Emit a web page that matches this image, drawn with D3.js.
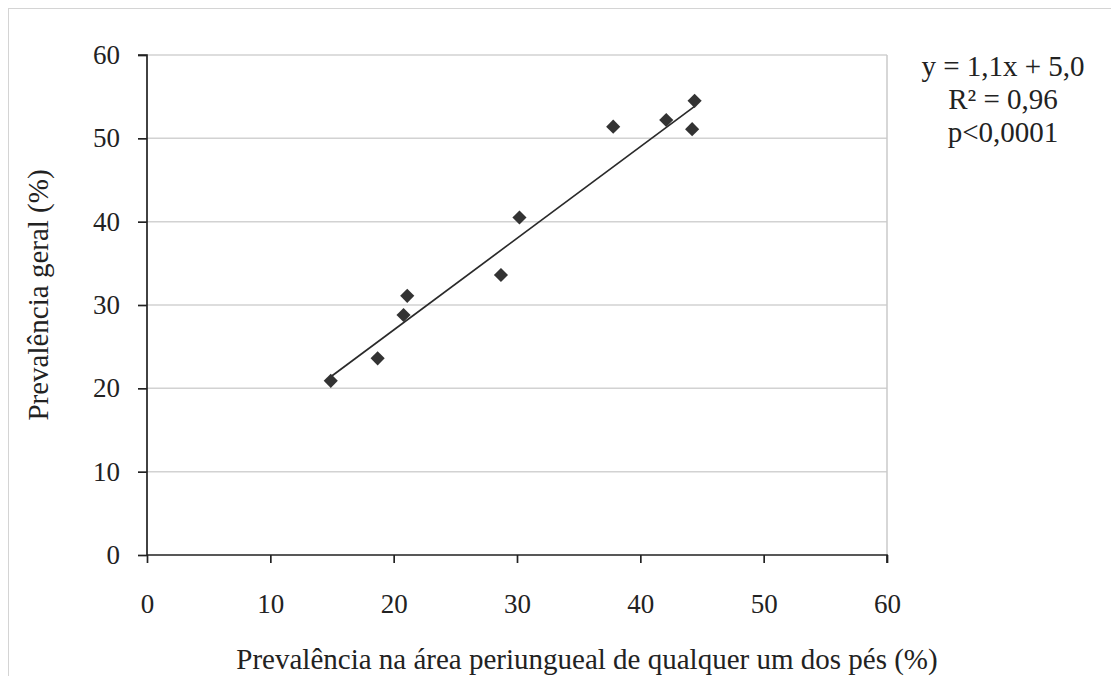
<!DOCTYPE html>
<html>
<head>
<meta charset="utf-8">
<script src="https://cdn.jsdelivr.net/npm/d3@7"></script>
<style>
  html, body { margin: 0; padding: 0; background: #fff; }
  svg { display: block; }
  text { font-family: "Liberation Serif", "Times New Roman", serif; fill: #222; }
</style>
</head>
<body>
<svg id="chart" width="1111" height="676"></svg>
<script>
// Prevalence on the periungual area of either foot (x) vs overall prevalence (y), %
const periungueal = [14.9, 18.7, 20.8, 21.1, 28.7, 30.2, 37.8, 42.1, 44.4, 44.2];
const geral       = [20.9, 23.6, 28.8, 31.1, 33.6, 40.5, 51.4, 52.2, 54.5, 51.1];

// Fitted line as printed: y = 1,1x + 5,0
const slope = 1.1;
const intercept = 5.0;
const statLines = ["y = 1,1x + 5,0", "R² = 0,96", "p<0,0001"];

const xTicks = [0, 10, 20, 30, 40, 50, 60];
const yTicks = [0, 10, 20, 30, 40, 50, 60];
const xTitle = "Prevalência na área periungueal de qualquer um dos pés (%)";
const yTitle = "Prevalência geral (%)";

const svg = d3.select("#chart");
const plotLeft = 147, plotRight = 887, plotTop = 55, plotBottom = 555;
const tickFont = 27, titleFont = 29;

const x = d3.scaleLinear().domain([0, 60]).range([plotLeft, plotRight]);
const y = d3.scaleLinear().domain([0, 60]).range([plotBottom, plotTop]);

// outer frame
svg.append("rect")
  .attr("x", 8.5).attr("y", 8.5).attr("width", 1300).attr("height", 1000)
  .attr("fill", "none").attr("stroke", "#d4d4d4").attr("stroke-width", 1);

// horizontal gridlines
svg.append("g").selectAll("line")
  .data(yTicks.filter(d => d > 0))
  .join("line")
  .attr("x1", plotLeft).attr("x2", plotRight)
  .attr("y1", d => y(d)).attr("y2", d => y(d))
  .attr("stroke", "#d2d2d2").attr("stroke-width", 1.5);

// right edge of plot area
svg.append("line")
  .attr("x1", plotRight).attr("x2", plotRight).attr("y1", plotTop).attr("y2", plotBottom)
  .attr("stroke", "#cacaca").attr("stroke-width", 1.5);

// axes
const yAxis = d3.axisLeft(y).tickValues(yTicks).tickSize(9).tickPadding(18).tickFormat(d3.format("d"));
const xAxis = d3.axisBottom(x).tickValues(xTicks).tickSize(8).tickPadding(31).tickFormat(d3.format("d"));

const gy = svg.append("g").attr("transform", `translate(${plotLeft},0)`).call(yAxis);
const gx = svg.append("g").attr("transform", `translate(0,${plotBottom})`).call(xAxis);

[gx, gy].forEach(g => {
  g.select(".domain").attr("stroke", "#222").attr("stroke-width", 1.7);
  g.selectAll(".tick line").attr("stroke", "#222").attr("stroke-width", 1.7);
  g.selectAll(".tick text")
    .attr("font-family", "Liberation Serif, Times New Roman, serif")
    .attr("font-size", tickFont).attr("fill", "#222");
});
gy.select(".domain").attr("d", `M-9,${plotTop}H0V${plotBottom}`);
gx.select(".domain").attr("d", `M${plotLeft},0H${plotRight}V8`);

// trend line over the observed range
const xr = d3.extent(periungueal);
svg.append("line")
  .attr("x1", x(xr[0])).attr("y1", y(slope * xr[0] + intercept))
  .attr("x2", x(xr[1])).attr("y2", y(slope * xr[1] + intercept))
  .attr("stroke", "#2a2a2a").attr("stroke-width", 1.7);

// diamond markers
const diamond = d3.symbol().type(d3.symbolSquare).size(100);
svg.append("g").selectAll("path")
  .data(periungueal.map((v, i) => [v, geral[i]]))
  .join("path")
  .attr("d", diamond)
  .attr("transform", d => `translate(${x(d[0])},${y(d[1])}) rotate(45)`)
  .attr("fill", "#333");

// axis titles
svg.append("text")
  .attr("x", 587).attr("y", 669)
  .attr("text-anchor", "middle").attr("font-size", titleFont)
  .text(xTitle);

svg.append("text")
  .attr("transform", `translate(48,295) rotate(-90)`)
  .attr("text-anchor", "middle").attr("font-size", titleFont)
  .text(yTitle);

// regression statistics
svg.append("g").selectAll("text")
  .data(statLines)
  .join("text")
  .attr("x", 1003).attr("y", (d, i) => 76 + i * 33)
  .attr("text-anchor", "middle").attr("font-size", titleFont)
  .text(d => d);
</script>
</body>
</html>
